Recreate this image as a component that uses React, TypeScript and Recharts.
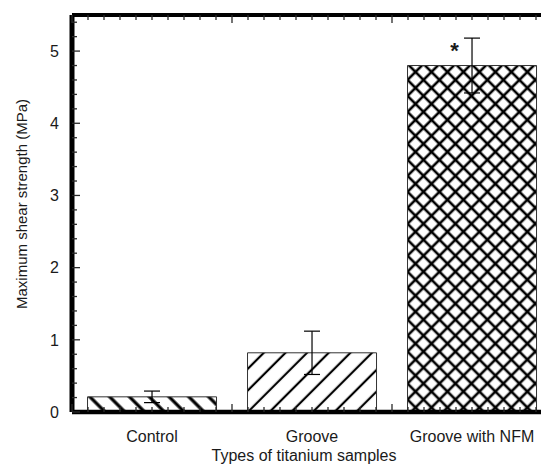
import React from 'react';
import { BarChart, Bar, XAxis, YAxis, Cell, ErrorBar, LabelList } from 'recharts';

// sample types and measured values (MPa)
const categories = ['Control', 'Groove', 'Groove with NFM'];
const positions = [0.5, 1.5, 2.5];
const strength = [0.21, 0.82, 4.8];
const strengthErr = [0.08, 0.3, 0.38];
const significance = ['', '', '*'];
const patternIds = ['hatchBack', 'hatchFwd', 'hatchCross'];

// tick labels
const yMajorTicks = [0, 1, 2, 3, 4, 5];
// minor ticks every 0.2 on y, every tenth of a category on x
const yTicks = Array.from({ length: 28 }, (_, i) => Math.round(i * 2) / 10);
const xTicks = Array.from({ length: 31 }, (_, i) => i / 10);

const data = categories.map((name, i) => ({
    name,
    pos: positions[i],
    value: strength[i],
    err: strengthErr[i],
    sig: significance[i],
}));

const FONT = '"Liberation Sans", Arial, sans-serif';
const INK = '#1a1a1a';
const TICK = '#2a2a2a';

const renderYTick = (props: any) => {
    const x = Number(props.x);
    const y = Number(props.y);
    const v = props.payload.value;
    const major = yMajorTicks.some(t => Math.abs(t - v) < 1e-6);
    return (
        <g key={`yt-${v}`}>
            <line x1={x} y1={y} x2={x + (major ? 8 : 5)} y2={y} stroke={TICK} strokeWidth={1.3} />
            {major && (
                <text x={x - 13} y={y} dy="0.36em" textAnchor="end" fontSize={16} fontFamily={FONT} fill={INK}>
                    {v}
                </text>
            )}
        </g>
    );
};

const renderBottomTick = (props: any) => {
    const x = Number(props.x);
    const y = Number(props.y);
    const i = Math.round(props.payload.value * 10);
    const major = i % 10 === 0;
    const labelIdx = i % 10 === 5 ? Math.floor(i / 10) : -1;
    return (
        <g key={`bt-${i}`}>
            <line x1={x} y1={y} x2={x} y2={y - (major ? 8 : 5)} stroke={TICK} strokeWidth={1.3} />
            {labelIdx >= 0 && (
                <text x={x} y={y + 29.5} textAnchor="middle" fontSize={16} fontFamily={FONT} fill={INK}>
                    {categories[labelIdx]}
                </text>
            )}
        </g>
    );
};

const renderTopTick = (props: any) => {
    const x = Number(props.x);
    const y = Number(props.y);
    const i = Math.round(props.payload.value * 10);
    const major = i % 10 === 0;
    return <line key={`tt-${i}`} x1={x} y1={y} x2={x} y2={y + (major ? 8 : 5)} stroke={TICK} strokeWidth={1.3} />;
};

const Star = (props: any) => {
    const { x, y, width, value } = props;
    if (!value) return null;
    return (
        <text x={x + width / 2 - 17.5} y={y - 8} textAnchor="middle" fontSize={22} fontWeight="bold" fontFamily={FONT} fill={INK}>
            {value}
        </text>
    );
};

const App = () => {
    return (
        <div style={{ position: 'absolute', left: 0, top: 0, width: 541, height: 467, overflow: 'hidden', background: '#fff' }}>
            <BarChart width={600} height={467} data={data} margin={{ top: 14, right: 48, bottom: 25, left: 12 }} barCategoryGap="9.7%">
                <defs>
                    <pattern id="hatchBack" patternUnits="userSpaceOnUse" width={14} height={14} patternTransform="rotate(-45)">
                        <rect width={14} height={14} fill="#fff" />
                        <line x1={7} y1={0} x2={7} y2={14} stroke="#000" strokeWidth={3.2} />
                    </pattern>
                    <pattern id="hatchFwd" patternUnits="userSpaceOnUse" width={15.3} height={15.3} patternTransform="rotate(45)">
                        <rect width={15.3} height={15.3} fill="#fff" />
                        <line x1={7.6} y1={0} x2={7.6} y2={15.3} stroke="#000" strokeWidth={2.2} />
                    </pattern>
                    <pattern id="hatchCross" patternUnits="userSpaceOnUse" width={11.3} height={11.3} patternTransform="rotate(45)">
                        <rect width={11.3} height={11.3} fill="#fff" />
                        <line x1={5.65} y1={0} x2={5.65} y2={11.3} stroke="#000" strokeWidth={2.6} />
                        <line x1={0} y1={5.65} x2={11.3} y2={5.65} stroke="#000" strokeWidth={2.6} />
                    </pattern>
                </defs>
                <XAxis
                    xAxisId="bottom"
                    dataKey="pos"
                    type="number"
                    domain={[0, 3]}
                    allowDataOverflow
                    ticks={xTicks}
                    interval={0}
                    tickSize={0}
                    tickMargin={0}
                    tickLine={false}
                    height={30}
                    axisLine={{ stroke: '#000', strokeWidth: 4.5 }}
                    tick={renderBottomTick}
                    label={{
                        content: () => (
                            <text x={304} y={461} textAnchor="middle" fontSize={16} fontFamily={FONT} fill={INK}>
                                Types of titanium samples
                            </text>
                        ),
                    }}
                />
                <XAxis
                    xAxisId="top"
                    dataKey="pos"
                    orientation="top"
                    type="number"
                    domain={[0, 3]}
                    allowDataOverflow
                    ticks={xTicks}
                    interval={0}
                    tickSize={0}
                    tickMargin={0}
                    tickLine={false}
                    height={1}
                    axisLine={{ stroke: '#000', strokeWidth: 4 }}
                    tick={renderTopTick}
                />
                <YAxis
                    type="number"
                    domain={[0, 5.5]}
                    allowDataOverflow
                    ticks={yTicks}
                    interval={0}
                    width={60}
                    tickSize={0}
                    tickMargin={0}
                    tickLine={false}
                    axisLine={{ stroke: '#000', strokeWidth: 5 }}
                    tick={renderYTick}
                    label={{
                        content: () => (
                            <text x={27} y={204} transform="rotate(-90, 27, 204)" textAnchor="middle" fontSize={15} fontFamily={FONT} fill={INK}>
                                Maximum shear strength (MPa)
                            </text>
                        ),
                    }}
                />
                <Bar xAxisId="bottom" dataKey="value" stroke="#333" strokeWidth={1} isAnimationActive={false}>
                    {data.map((d, i) => (
                        <Cell key={d.name} fill={`url(#${patternIds[i]})`} />
                    ))}
                    <ErrorBar dataKey="err" width={8} stroke="#000" strokeWidth={1.2} direction="y" />
                    <LabelList dataKey="sig" content={<Star />} />
                </Bar>
            </BarChart>
        </div>
    );
};

export default App;
